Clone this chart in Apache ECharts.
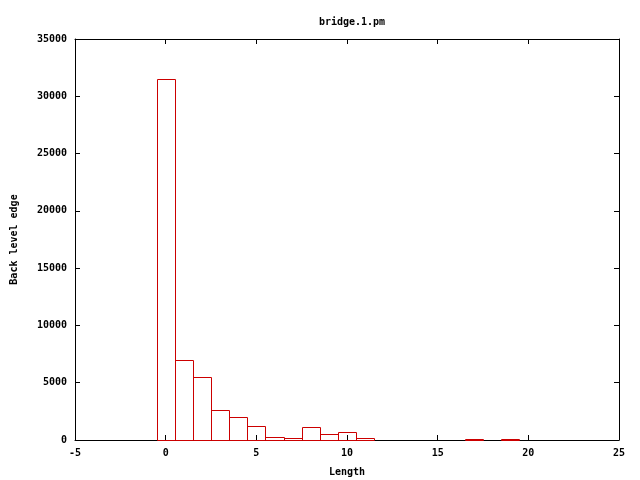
<!DOCTYPE html>
<html><head><meta charset="utf-8">
<script src="https://cdn.jsdelivr.net/npm/echarts@6/dist/echarts.min.js"></script>
<style>html,body{margin:0;padding:0;background:#fff}#c{width:640px;height:480px}</style>
</head><body><div id="c"></div>
<script>
const titleText = 'bridge.1.pm';
const xName = 'Length';
const yName = 'Back level edge';
const lengths = [0, 1, 2, 3, 4, 5, 6, 7, 8, 9, 10, 11, 17, 19];
const counts = [31500, 7000, 5500, 2600, 2050, 1200, 250, 150, 1100, 500, 700, 150, 50, 50];

const font = 'DejaVu Sans Mono';
const chart = echarts.init(document.getElementById('c'), null, {renderer: 'canvas'});
const axisCommon = {
  axisLine: {show: true, onZero: false, lineStyle: {color: '#000', width: 1}},
  axisTick: {show: true, inside: true, length: 5, lineStyle: {color: '#000'}},
  splitLine: {show: false}
};
const lbl = {fontFamily: font, fontSize: 10, fontWeight: 'bold', color: '#000', margin: 8,
  formatter: v => String(v)};
chart.setOption({
  animation: false,
  backgroundColor: '#fff',
  title: {text: titleText, left: 347, top: 12, textAlign: 'center',
    textStyle: {fontFamily: font, fontSize: 10, fontWeight: 'bold', color: '#000'}},
  grid: {left: 75, right: 21, top: 39, bottom: 40, containLabel: false, outerBoundsMode: 'none'},
  xAxis: [
    Object.assign({type: 'value', min: -5, max: 25, interval: 5, position: 'bottom',
      name: xName, nameLocation: 'middle', nameGap: 27,
      nameTextStyle: {fontFamily: font, fontSize: 10, fontWeight: 'bold', color: '#000'},
      axisLabel: lbl}, axisCommon),
    Object.assign({type: 'value', min: -5, max: 25, interval: 5, position: 'top',
      axisLabel: {show: false}}, axisCommon)
  ],
  yAxis: [
    Object.assign({type: 'value', min: 0, max: 35000, interval: 5000, position: 'left',
      name: yName, nameLocation: 'middle', nameGap: 56, nameRotate: 90,
      nameTextStyle: {fontFamily: font, fontSize: 10, fontWeight: 'bold', color: '#000'},
      axisLabel: lbl}, axisCommon),
    Object.assign({type: 'value', min: 0, max: 35000, interval: 5000, position: 'right',
      axisLabel: {show: false}}, axisCommon)
  ],
  series: [{
    type: 'custom',
    xAxisIndex: 0, yAxisIndex: 0,
    z: 10,
    data: lengths.map((l, i) => [l, counts[i]]),
    renderItem: function (params, api) {
      const x = api.value(0), y = api.value(1);
      const p0 = api.coord([x - 0.5, 0]);
      const p1 = api.coord([x + 0.5, y]);
      const x0 = Math.round(p0[0]) + 0.5, x1 = Math.round(p1[0]) + 0.5;
      const y0 = Math.round(p0[1]) + 0.5, y1 = Math.round(p1[1]) + 0.5;
      return {type: 'rect', shape: {x: x0, y: y1, width: x1 - x0, height: y0 - y1},
        style: {fill: 'none', stroke: '#cc0000', lineWidth: 1}};
    }
  }]
});
</script></body></html>
